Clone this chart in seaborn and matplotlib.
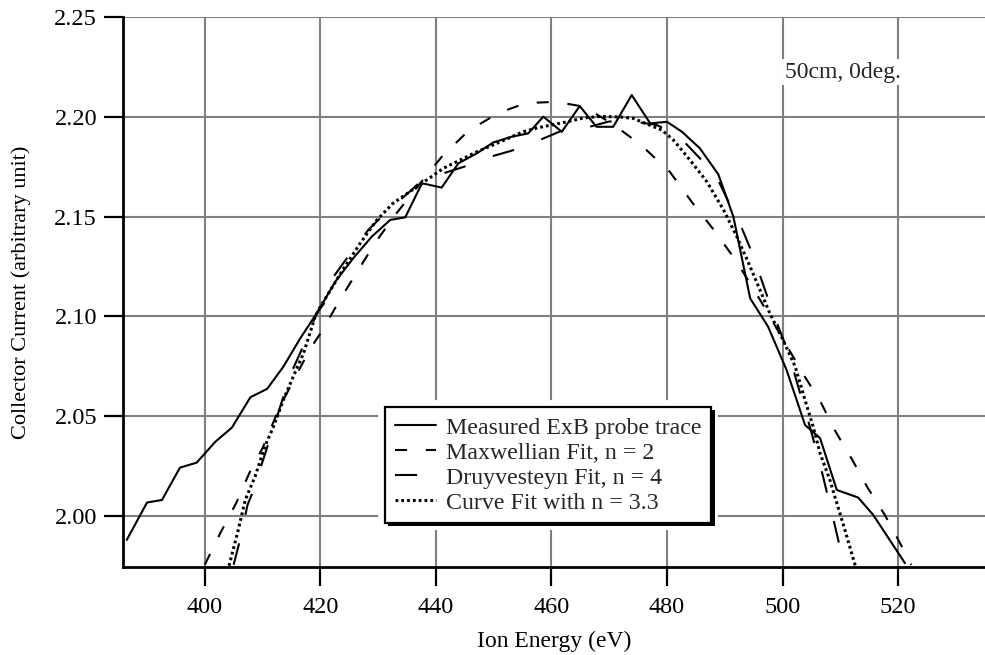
import seaborn as sns
import matplotlib.pyplot as plt
import matplotlib.patheffects as pe

# measured ExB probe trace
energy_meas = [386.5, 390.0, 392.6, 395.7, 398.6, 401.8, 404.7, 407.9, 410.8, 413.6,
               416.5, 419.4, 422.6, 425.7, 428.9, 432.1, 434.7, 437.6, 441.0, 443.9,
               447.1, 449.9, 453.1, 456.0, 458.6, 461.8, 464.9, 467.8, 470.7, 473.9,
               477.1, 480.0, 482.6, 485.7, 488.9, 491.5, 494.4, 497.5, 500.7, 503.9,
               506.5, 509.4, 513.1, 515.7, 521.2]
current_meas = [1.988, 2.0067, 2.008, 2.0242, 2.0267, 2.0371, 2.0443, 2.0595, 2.0637, 2.0748,
                2.0889, 2.1017, 2.1175, 2.1292, 2.1400, 2.1484, 2.1497, 2.1668, 2.1646, 2.1768,
                2.1818, 2.1872, 2.1901, 2.1918, 2.2002, 2.1926, 2.2055, 2.1951, 2.1951, 2.2110,
                2.1968, 2.1976, 2.1926, 2.1843, 2.1712, 2.1500, 2.1091, 2.0949, 2.0732, 2.0456,
                2.0390, 2.0130, 2.0092, 2.0005, 1.9763]

# Maxwellian fit, n = 2
energy_maxw = [400.0, 402.8, 405.5, 407.7, 410.0, 413.0, 416.0, 418.3, 420.5, 423.3,
               426.3, 429.5, 433.0, 436.5, 441.0, 445.6, 450.8, 455.6, 460.8, 465.6,
               470.6, 475.5, 480.5, 484.4, 488.0, 491.7, 495.0, 497.8, 500.5, 503.6,
               506.5, 509.1, 512.0, 514.7, 517.7, 520.5, 522.3]
current_maxw = [1.9755, 1.992, 2.0068, 2.0214, 2.034, 2.0548, 2.0715, 2.084, 2.0936, 2.108,
                2.122, 2.137, 2.151, 2.164, 2.180, 2.193, 2.202, 2.207, 2.2076, 2.2052,
                2.1965, 2.186, 2.1725, 2.157, 2.1438, 2.129, 2.1138, 2.100, 2.0865, 2.071,
                2.0577, 2.0427, 2.0285, 2.0143, 2.0005, 1.9855, 1.9755]

# Druyvesteyn fit, n = 4
energy_druy = [405.0, 406.1, 407.4, 408.1, 410.2, 412.7, 414.8, 416.5, 419.4, 421.1,
               422.3, 424.6, 428.3, 431.8, 435.8, 437.3, 441.0, 444.8, 448.5, 453.1,
               456.6, 462.1, 465.2, 469.9, 473.3, 478.2, 481.7, 485.7, 488.7, 491.2,
               493.0, 495.0, 497.0, 499.0, 501.0, 503.0, 505.0, 507.0, 509.0, 510.6]
current_druy = [1.9755, 1.988, 2.0055, 2.0105, 2.029, 2.0515, 2.0707, 2.0816, 2.1017, 2.1083,
                2.120, 2.1292, 2.1434, 2.1534, 2.1634, 2.1676, 2.1715, 2.175, 2.1793, 2.1831,
                2.1868, 2.1935, 2.194, 2.1977, 2.1982, 2.196, 2.1915, 2.1793, 2.1693, 2.1542,
                2.144, 2.130, 2.113, 2.097, 2.082, 2.062, 2.042, 2.020, 1.996, 1.976]

# curve fit, n = 3.3
energy_fit = [404.2, 405.8, 407.0, 408.7, 410.4, 411.9, 413.6, 415.3, 417.1, 418.2,
              419.1, 420.0, 423.7, 426.9, 429.8, 432.6, 435.5, 438.4, 441.3, 444.2,
              447.1, 449.9, 452.3, 455.0, 457.5, 460.0, 462.7, 465.5, 468.4, 471.9,
              474.2, 476.5, 479.1, 481.1, 482.8, 484.6, 486.9, 489.8, 492.1, 493.9,
              496.1, 497.8, 500.1, 502.2, 503.9, 505.3, 506.5, 508.2, 509.4, 510.8,
              512.3, 512.6]
current_fit = [1.975, 1.993, 2.008, 2.0197, 2.0348, 2.0448, 2.0581, 2.0698, 2.0816, 2.0916,
               2.0999, 2.1049, 2.1225, 2.1367, 2.1484, 2.1568, 2.1626, 2.1684, 2.1743, 2.1784,
               2.1826, 2.186, 2.189, 2.1925, 2.1945, 2.196, 2.1976, 2.1995, 2.2003, 2.200,
               2.1993, 2.1965, 2.1935, 2.1885, 2.1826, 2.1762, 2.1676, 2.1534, 2.140, 2.1283,
               2.1133, 2.1016, 2.0882, 2.0748, 2.0581, 2.0448, 2.0314, 2.018, 2.0064, 1.993,
               1.978, 1.975]

x_ticks = [400, 420, 440, 460, 480, 500, 520]
y_ticks = [2.00, 2.05, 2.10, 2.15, 2.20, 2.25]

sns.set_style("ticks")
plt.rcParams['font.family'] = ['Liberation Serif', 'DejaVu Serif']

fig = plt.figure(figsize=(9.85, 6.55), dpi=100)
ax = fig.add_axes([0.1246, 0.1344, 0.8754, 0.8392])

lw = 1.5
sns.lineplot(x=energy_meas, y=current_meas, ax=ax, color='black', lw=lw,
             estimator=None, sort=False, label='Measured ExB probe trace')
sns.lineplot(x=energy_maxw, y=current_maxw, ax=ax, color='black', lw=lw,
             linestyle=(0, (5.8, 9.0)), estimator=None, sort=False,
             label='Maxwellian Fit, n = 2')
sns.lineplot(x=energy_druy, y=current_druy, ax=ax, color='black', lw=lw,
             linestyle=(0, (10.6, 14.0)), estimator=None, sort=False,
             label='Druyvesteyn Fit, n = 4')
sns.lineplot(x=energy_fit, y=current_fit, ax=ax, color='black', lw=2.2,
             linestyle=(0, (0.9, 1.0)), estimator=None, sort=False,
             label='Curve Fit with n = 3.3')

ax.set_xlim(385.8, 535.05)
ax.set_ylim(1.9744, 2.25)
ax.set_xticks(x_ticks)
ax.set_yticks(y_ticks)
ax.set_yticklabels([f"{v:.2f}" for v in y_ticks])
ax.grid(True, color='#808080', lw=1.5)
ax.set_axisbelow(True)

for s in ['top', 'right']:
    ax.spines[s].set_visible(False)
for s in ['left', 'bottom']:
    ax.spines[s].set_linewidth(2.0)
    ax.spines[s].set_color('black')

ax.tick_params(direction='out', length=13.5, width=1.6, color='black',
               labelsize=17.5, labelcolor='black')
ax.tick_params(axis='x', pad=8)
ax.tick_params(axis='y', pad=5)

ax.set_xlabel('Ion Energy (eV)', fontsize=17, labelpad=9, color='black')
ax.set_ylabel('Collector Current (arbitrary unit)', fontsize=16, labelpad=17,
              color='black')

ax.text(500.4, 2.2225, '50cm, 0deg.', fontsize=17, ha='left', va='center',
        bbox=dict(facecolor='white', edgecolor='none', pad=2))

leg = ax.legend(loc='lower left', bbox_to_anchor=(0.3042, 0.0795), borderaxespad=0,
                fontsize=17.2, handlelength=1.75, handletextpad=0.42, labelspacing=0.14,
                borderpad=0.4, fancybox=False, edgecolor='black', framealpha=1)
frame = leg.get_frame()
frame.set_linewidth(1.6)
frame.set_path_effects([pe.Stroke(linewidth=10, foreground='white'),
                        pe.SimplePatchShadow(offset=(2.2, -2.2), shadow_rgbFace='black',
                                             alpha=1, rho=1),
                        pe.Normal()])

fig.savefig('out.png', dpi=100)
